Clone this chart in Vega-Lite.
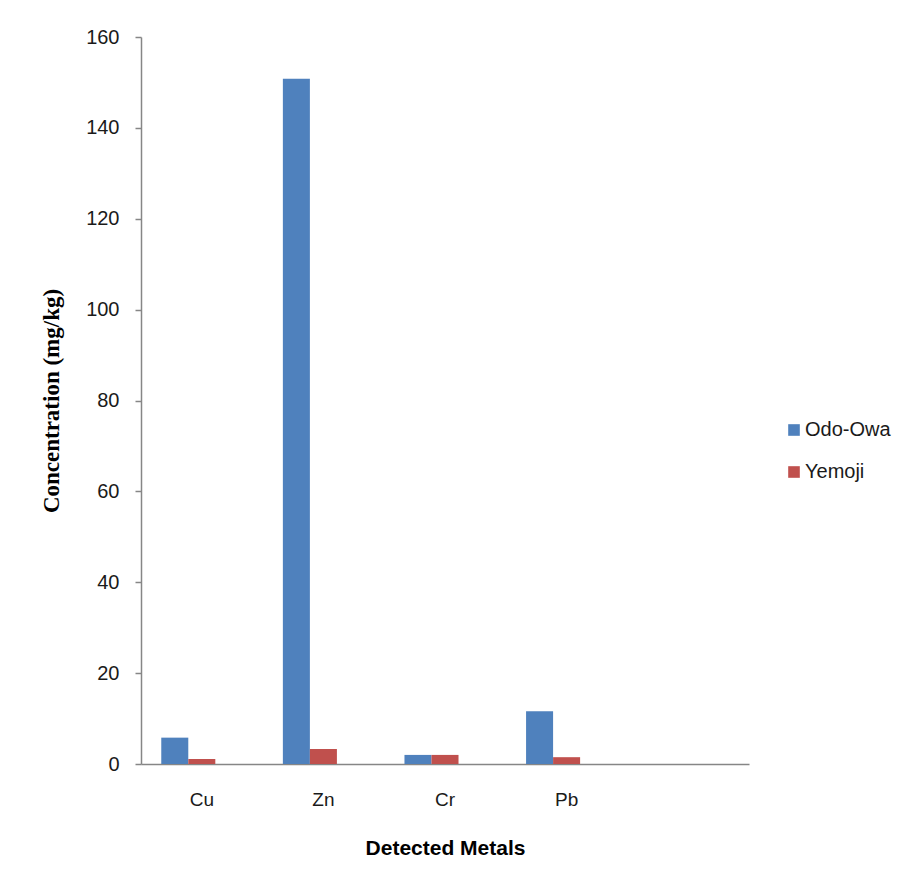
{
  "$schema": "https://vega.github.io/schema/vega-lite/v6.json",
  "width": 608,
  "height": 727,
  "autosize": {"type": "none"},
  "padding": {"left": 141, "top": 37, "right": 159, "bottom": 119},
  "background": "white",
  "config": {
    "view": {"stroke": null},
    "font": "Liberation Sans"
  },
  "data": {
    "values": [
      {"metal": "Cu", "site": "Odo-Owa", "value": 5.8},
      {"metal": "Cu", "site": "Yemoji", "value": 1.1},
      {"metal": "Zn", "site": "Odo-Owa", "value": 150.8},
      {"metal": "Zn", "site": "Yemoji", "value": 3.3},
      {"metal": "Cr", "site": "Odo-Owa", "value": 2.0},
      {"metal": "Cr", "site": "Yemoji", "value": 2.0},
      {"metal": "Pb", "site": "Odo-Owa", "value": 11.6},
      {"metal": "Pb", "site": "Yemoji", "value": 1.5}
    ]
  },
  "mark": {"type": "bar"},
  "encoding": {
    "x": {
      "field": "metal",
      "type": "nominal",
      "sort": null,
      "scale": {"domain": ["Cu", "Zn", "Cr", "Pb", "_"], "paddingInner": 0, "paddingOuter": 0},
      "axis": {
        "title": "Detected Metals",
        "titleFont": "Liberation Sans",
        "titleFontSize": 21,
        "titleFontWeight": "bold",
        "titleColor": "#000000",
        "titlePadding": 28,
        "labelAngle": 0,
        "labelFontSize": 19,
        "labelColor": "#1a1a1a",
        "labelPadding": 26,
        "labelExpr": "datum.value == '_' ? '' : datum.value",
        "ticks": false,
        "tickSize": 0,
        "domainColor": "#868686",
        "domainWidth": 1.5,
        "grid": false
      }
    },
    "xOffset": {
      "field": "site",
      "type": "nominal",
      "scale": {"domain": ["Odo-Owa", "Yemoji", "_"], "paddingInner": 0, "paddingOuter": 0.75}
    },
    "y": {
      "field": "value",
      "type": "quantitative",
      "scale": {"domain": [0, 160], "nice": false},
      "axis": {
        "title": "Concentration (mg/kg)",
        "titleFont": "Liberation Serif",
        "titleFontSize": 23,
        "titleFontWeight": "bold",
        "titleColor": "#000000",
        "titlePadding": 22,
        "values": [0, 20, 40, 60, 80, 100, 120, 140, 160],
        "labelFontSize": 20,
        "labelColor": "#1a1a1a",
        "labelPadding": 16,
        "tickSize": 6,
        "tickColor": "#868686",
        "tickWidth": 1.5,
        "domainColor": "#868686",
        "domainWidth": 1.5,
        "grid": false
      }
    },
    "color": {
      "field": "site",
      "type": "nominal",
      "scale": {"domain": ["Odo-Owa", "Yemoji"], "range": ["#4F81BD", "#C0504D"]},
      "legend": {
        "title": null,
        "orient": "none",
        "legendX": 643,
        "legendY": 383,
        "padding": 0,
        "symbolType": "square",
        "symbolSize": 135,
        "symbolStrokeWidth": 0,
        "labelFontSize": 20,
        "labelColor": "#1a1a1a",
        "labelOffset": 1,
        "rowPadding": 22
      }
    }
  }
}
